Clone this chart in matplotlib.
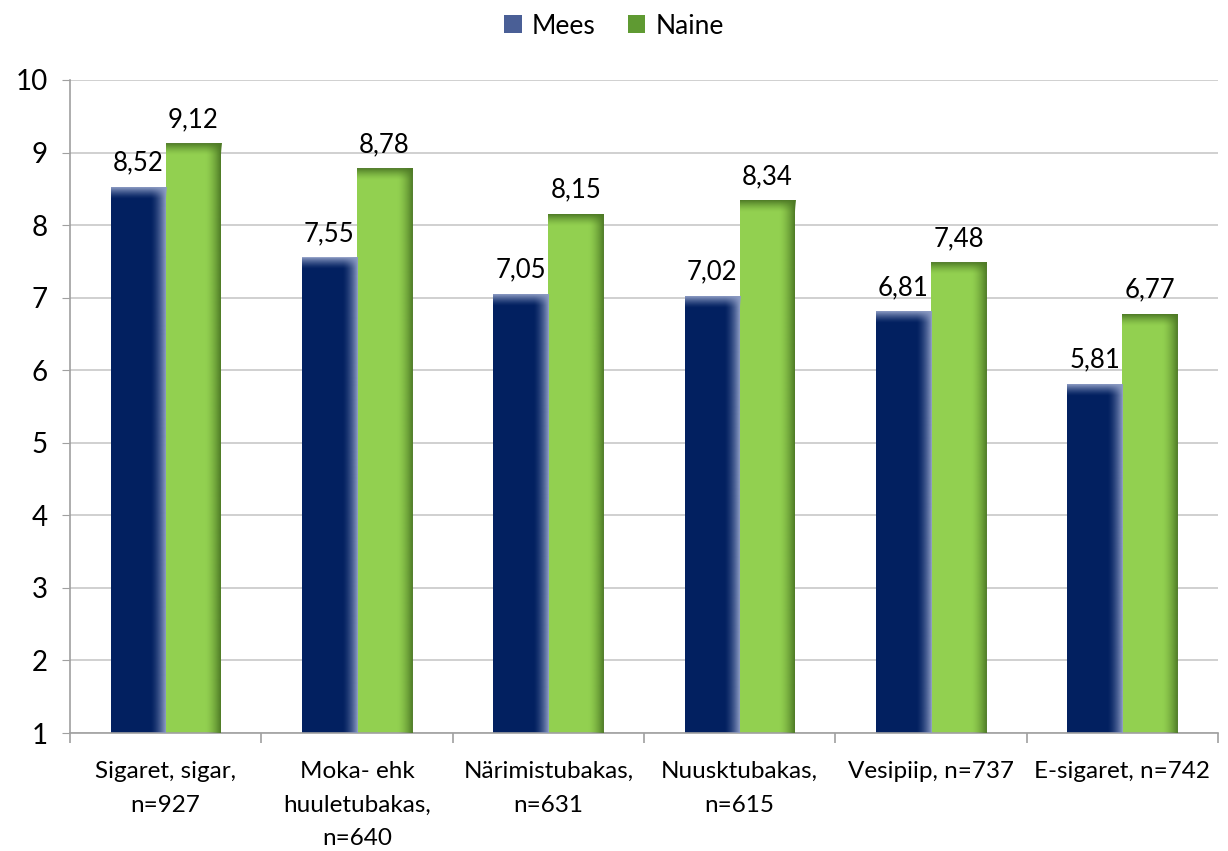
import numpy as np
import matplotlib.pyplot as plt
from matplotlib.patches import Patch
from matplotlib.colors import to_rgb

plt.rcParams['font.family'] = ['Lato', 'DejaVu Sans']

categories = [
    'Sigaret, sigar,\nn=927',
    'Moka- ehk\nhuuletubakas,\nn=640',
    'Närimistubakas,\nn=631',
    'Nuusktubakas,\nn=615',
    'Vesipiip, n=737',
    'E-sigaret, n=742',
]
mees = [8.52, 7.55, 7.05, 7.02, 6.81, 5.81]
naine = [9.12, 8.78, 8.15, 8.34, 7.48, 6.77]
y_ticks = list(range(1, 11))

navy = '#022060'
navy_edge = '#8d9cc4'
green = '#92d050'
green_edge = '#4e7a26'

fig = plt.figure(figsize=(12.28, 8.51), dpi=100)
ax = fig.add_axes([70 / 1228, 118 / 851, 1148 / 1228, 653 / 851])

x = np.arange(len(categories))
w = 0.288
base = 1


def shade(ax, x0, width, top, edge_col):
    # soft highlight along the right side and the top of a bar
    r, g, b = to_rgb(edge_col)
    n = 64
    ramp = np.linspace(0, 1, n) ** 1.6
    img = np.zeros((1, n, 4))
    img[..., 0], img[..., 1], img[..., 2] = r, g, b
    img[0, :, 3] = ramp
    ax.imshow(img, extent=(x0 + width * 0.72, x0 + width, base, top),
              aspect='auto', zorder=3, interpolation='bilinear')
    img2 = np.zeros((n, 1, 4))
    img2[..., 0], img2[..., 1], img2[..., 2] = r, g, b
    img2[:, 0, 3] = np.linspace(1, 0, n) ** 1.4
    ax.imshow(img2, extent=(x0, x0 + width, top - 0.16, top),
              aspect='auto', zorder=3, interpolation='bilinear')


ax.bar(x - w / 2, np.array(mees) - base, w, bottom=base, color=navy, zorder=2)
ax.bar(x + w / 2, np.array(naine) - base, w, bottom=base, color=green, zorder=2)

for i in range(len(categories)):
    shade(ax, x[i] - w, w, mees[i], navy_edge)
    shade(ax, x[i], w, naine[i], green_edge)
    ax.text(x[i] - w / 2, mees[i] + 0.16, f'{mees[i]:.2f}'.replace('.', ','),
            ha='center', va='bottom', fontsize=18.5)
    ax.text(x[i] + w / 2, naine[i] + 0.16, f'{naine[i]:.2f}'.replace('.', ','),
            ha='center', va='bottom', fontsize=18.5)

ax.set_xlim(-0.5, len(categories) - 0.5)
ax.set_ylim(1, 10)
ax.set_yticks(y_ticks)
ax.tick_params(axis='y', labelsize=20, length=6, color='#a0a0a0', pad=10)
ax.set_xticks(x)
ax.set_xticklabels(categories, fontsize=17.5, linespacing=1.75)
ax.tick_params(axis='x', which='major', length=0, pad=20)
ax.set_xticks(np.arange(-0.5, len(categories)), minor=True)
ax.tick_params(axis='x', which='minor', length=7, color='#a0a0a0', width=1.2)

ax.grid(axis='y', color='#c8c8c8', linewidth=1.2, zorder=0)
ax.set_axisbelow(True)
for side in ['top', 'right']:
    ax.spines[side].set_visible(False)
for side in ['left', 'bottom']:
    ax.spines[side].set_color('#a0a0a0')
    ax.spines[side].set_linewidth(1.2)

handles = [Patch(facecolor='#4a5f96', label='Mees'),
           Patch(facecolor='#5f9a32', label='Naine')]
fig.legend(handles=handles, loc='upper center', bbox_to_anchor=(0.5, 1.012),
           ncol=2, frameon=False, fontsize=19, handlelength=0.65,
           handleheight=0.65, columnspacing=1.2, handletextpad=0.4)

fig.savefig('out.png', dpi=100, facecolor='white')
